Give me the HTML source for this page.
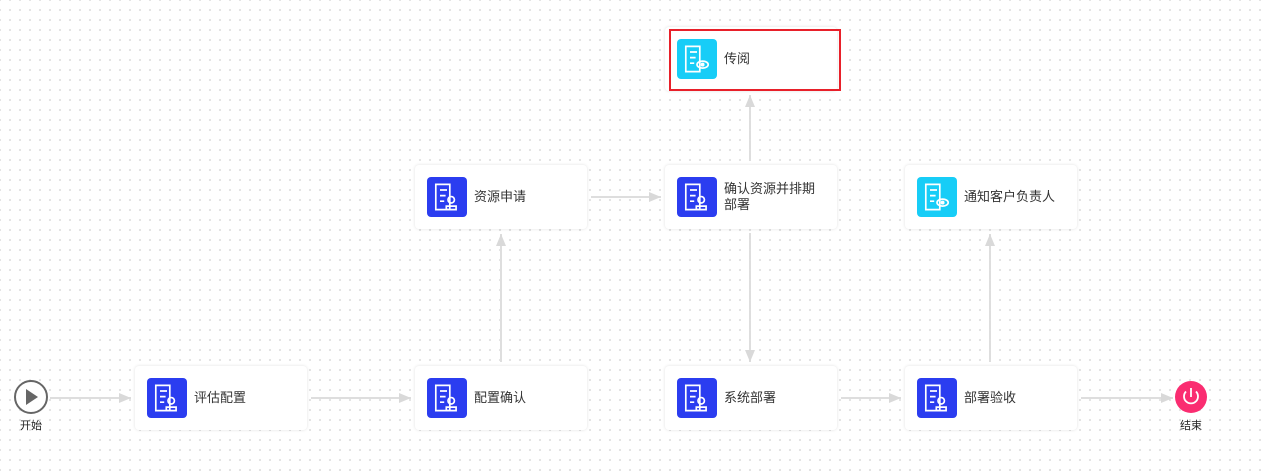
<!DOCTYPE html>
<html><head><meta charset="utf-8"><style>
html,body{margin:0;padding:0}
body{width:1261px;height:472px;position:relative;overflow:hidden;background:#fff;
background-image:radial-gradient(circle,#dcdcdc 0.8px,transparent 1.1px);background-size:10px 10px;background-position:5px 5px;
font-family:"Liberation Sans","Noto Sans CJK SC",sans-serif;}
.n{position:absolute;width:172px;height:64px;background:#fff;border-radius:4px;box-shadow:0 0 3px rgba(0,0,0,0.12);box-sizing:border-box}
.ic{position:absolute;left:12px;top:12px;width:40px;height:40px;border-radius:4px;background:#2b3df0}
.ic.c{background:#17cdf7}
.t{position:absolute;left:59px;top:0;height:64px;display:flex;align-items:center;font-size:13px;color:#333;line-height:16px;width:100px}
.lb{position:absolute;font-size:11px;color:#222}
svg.l{position:absolute;left:0;top:0}
</style></head><body>
<svg class="l" width="1261" height="472">
<defs><marker id="a" markerWidth="12" markerHeight="10" refX="12" refY="5" orient="auto" markerUnits="userSpaceOnUse"><path d="M0,0L12,5L0,10z" fill="#d9d9d9"/></marker></defs>
<g stroke="#dedede" stroke-width="2" fill="none" marker-end="url(#a)">
<line x1="50" y1="398" x2="131" y2="398"/>
<line x1="311" y1="398" x2="411" y2="398"/>
<line x1="501" y1="362" x2="501" y2="234"/>
<line x1="591" y1="197" x2="661" y2="197"/>
<line x1="750" y1="161" x2="750" y2="95"/>
<line x1="750" y1="233" x2="750" y2="362"/>
<line x1="841" y1="398" x2="901" y2="398"/>
<line x1="990" y1="362" x2="990" y2="234"/>
<line x1="1081" y1="398" x2="1173" y2="398"/>
</g>
<circle cx="31" cy="397" r="16" fill="#fff" stroke="#666" stroke-width="2"/>
<path d="M26,389L38,397L26,405z" fill="#666"/>
<circle cx="1191" cy="397" r="16" fill="#fa2d71"/>
<path d="M1186,391.5A7,7 0 1 0 1196,391.5" stroke="#fff" stroke-width="1.8" fill="none"/>
<line x1="1191" y1="388" x2="1191" y2="397" stroke="#fff" stroke-width="1.8"/>
</svg>
<div class="lb" style="left:20px;top:417px">开始</div>
<div class="lb" style="left:1180px;top:417px">结束</div>

<div class="n" style="left:135px;top:366px"><div class="ic"></div><div class="t">评估配置</div></div>
<div class="n" style="left:415px;top:366px"><div class="ic"></div><div class="t">配置确认</div></div>
<div class="n" style="left:665px;top:366px"><div class="ic"></div><div class="t">系统部署</div></div>
<div class="n" style="left:905px;top:366px"><div class="ic"></div><div class="t">部署验收</div></div>
<div class="n" style="left:415px;top:165px"><div class="ic"></div><div class="t">资源申请</div></div>
<div class="n" style="left:665px;top:165px"><div class="ic"></div><div class="t">确认资源并排期部署</div></div>
<div class="n" style="left:905px;top:165px"><div class="ic c"></div><div class="t">通知客户负责人</div></div>
<div class="n" style="left:665px;top:27px;height:64px"><div class="ic c"></div><div class="t">传阅</div></div>
<div style="position:absolute;left:669px;top:29px;width:172px;height:62px;border:2px solid #e8202a;box-sizing:border-box"></div>

<svg class="l" width="1261" height="472" style="pointer-events:none">
<g stroke="#fff" stroke-width="1.2" fill="none">
<g id="d1" transform="translate(147,378) translate(20,20) scale(1.4) translate(-20,-20)"><path d="M12,11h10v18h-10z M15,15h5 M15,19h4 M15,23h3"/><circle cx="23" cy="22" r="2.3"/><path d="M19.5,29v-2.5h7v2.5z"/></g>
<use href="#d1" x="280"/><use href="#d1" x="530"/><use href="#d1" x="770"/><use href="#d1" x="280" y="-201"/><use href="#d1" x="530" y="-201"/>
<g id="d2" transform="translate(917,177) translate(20,20) scale(1.4) translate(-20,-20)"><path d="M12,11h10v18h-10z M15,15h5 M15,19h4 M15,23h3"/><ellipse cx="24" cy="24" rx="4" ry="2.5"/><circle cx="24" cy="24" r="0.8" fill="#fff"/></g>
<use href="#d2" x="-240" y="-138"/>
</g></svg>
</body></html>
